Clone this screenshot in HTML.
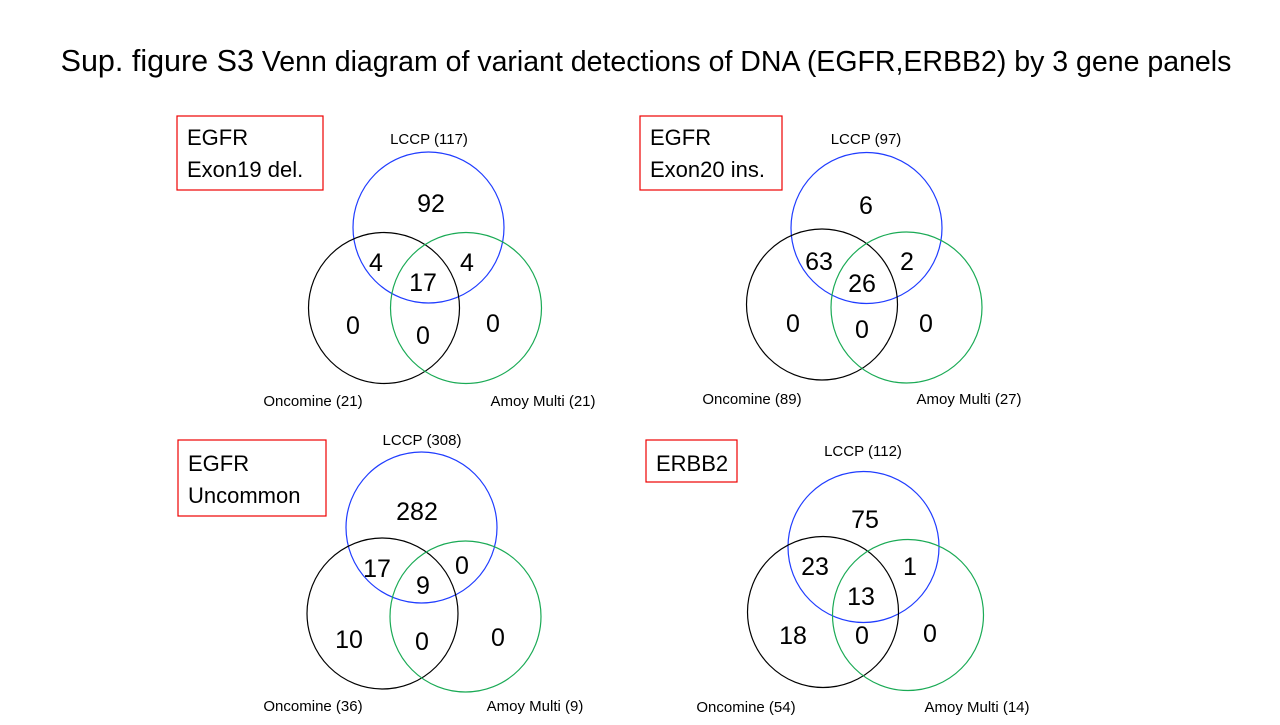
<!DOCTYPE html>
<html><head><meta charset="utf-8"><style>
body{margin:0;background:#fff;width:1280px;height:720px;overflow:hidden;font-family:"Liberation Sans",sans-serif}
</style></head><body>
<svg width="1280" height="720" xmlns="http://www.w3.org/2000/svg" font-family="Liberation Sans, sans-serif">
<text x="646" y="71" text-anchor="middle" font-size="28.5" fill="#000"><tspan font-size="30.5">Sup. figure S3</tspan> Venn diagram of variant detections of DNA (EGFR,ERBB2) by 3 gene panels</text>
<g fill="none" stroke-width="1.2">
<rect x="177" y="116" width="146" height="74" stroke="#e00"/>
<circle cx="428.5" cy="227.5" r="75.5" stroke="#1f3cff"/>
<circle cx="384" cy="308" r="75.5" stroke="#000"/>
<circle cx="466" cy="308" r="75.5" stroke="#1aaa55"/>
<rect x="640" y="116" width="142" height="74" stroke="#e00"/>
<circle cx="866.5" cy="228" r="75.5" stroke="#1f3cff"/>
<circle cx="822" cy="304.5" r="75.5" stroke="#000"/>
<circle cx="906.5" cy="307.5" r="75.5" stroke="#1aaa55"/>
<rect x="178" y="440" width="148" height="76" stroke="#e00"/>
<circle cx="421.5" cy="527.5" r="75.5" stroke="#1f3cff"/>
<circle cx="382.5" cy="613.5" r="75.5" stroke="#000"/>
<circle cx="465.5" cy="616.5" r="75.5" stroke="#1aaa55"/>
<rect x="646" y="440" width="91" height="42" stroke="#e00"/>
<circle cx="863.5" cy="547" r="75.5" stroke="#1f3cff"/>
<circle cx="823" cy="612" r="75.5" stroke="#000"/>
<circle cx="908" cy="615" r="75.5" stroke="#1aaa55"/>
</g>
<g font-size="22" fill="#000">
<text x="187" y="145">EGFR</text><text x="187" y="177">Exon19 del.</text>
<text x="650" y="145">EGFR</text><text x="650" y="177">Exon20 ins.</text>
<text x="188" y="471">EGFR</text><text x="188" y="503">Uncommon</text>
<text x="656" y="471">ERBB2</text>
</g>
<g font-size="15" fill="#000" text-anchor="middle">
<text x="429" y="144">LCCP (117)</text><text x="313" y="406">Oncomine (21)</text><text x="543" y="406">Amoy Multi (21)</text>
<text x="866" y="144">LCCP (97)</text><text x="752" y="404">Oncomine (89)</text><text x="969" y="404">Amoy Multi (27)</text>
<text x="422" y="445">LCCP (308)</text><text x="313" y="711">Oncomine (36)</text><text x="535" y="711">Amoy Multi (9)</text>
<text x="863" y="456">LCCP (112)</text><text x="746" y="712">Oncomine (54)</text><text x="977" y="712">Amoy Multi (14)</text>
</g>
<g font-size="25" fill="#000" text-anchor="middle">
<text x="431" y="212">92</text><text x="376" y="271">4</text><text x="423" y="291">17</text><text x="467" y="271">4</text>
<text x="353" y="334">0</text><text x="423" y="344">0</text><text x="493" y="332">0</text>
<text x="866" y="214">6</text><text x="819" y="270">63</text><text x="862" y="292">26</text><text x="907" y="270">2</text>
<text x="793" y="332">0</text><text x="862" y="338">0</text><text x="926" y="332">0</text>
<text x="417" y="520">282</text><text x="377" y="577">17</text><text x="423" y="594">9</text><text x="462" y="574">0</text>
<text x="349" y="648">10</text><text x="422" y="650">0</text><text x="498" y="646">0</text>
<text x="865" y="528">75</text><text x="815" y="575">23</text><text x="861" y="605">13</text><text x="910" y="575">1</text>
<text x="793" y="644">18</text><text x="862" y="644">0</text><text x="930" y="642">0</text>
</g>
</svg>
</body></html>
